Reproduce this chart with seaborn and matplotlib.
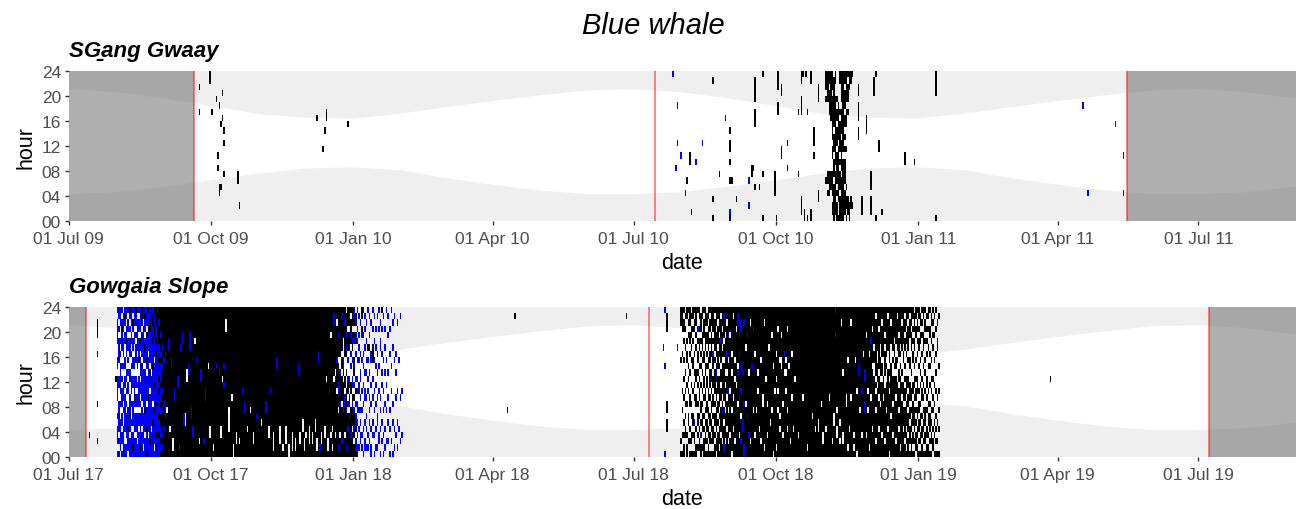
import numpy as np
import pandas as pd
import seaborn as sns
import matplotlib.pyplot as plt
import matplotlib.dates as mdates
from matplotlib.colors import ListedColormap

sns.set_theme(style="white")
plt.rcParams['font.family'] = ['Liberation Sans', 'DejaVu Sans']
plt.rcParams['text.color'] = 'black'
plt.rcParams['axes.labelcolor'] = 'black'

# daylight band (local hour), value on the 1st of each month Jan..Dec
sun_months = [1, 2, 3, 4, 5, 6, 7, 8, 9, 10, 11, 12]
sunrise = [8.6, 8.1, 6.9, 5.8, 4.9, 4.3, 4.3, 4.6, 5.5, 6.5, 7.6, 8.4]
sunset = [16.4, 17.2, 18.2, 19.2, 20.1, 20.9, 21.1, 20.6, 19.6, 18.4, 17.1, 16.5]

# 'k' = black detections, 'b' = blue detections
call_colors = {"k": "black", "b": "#0000FF"}

# day tokens: 24 cells, hour 23 first -> hour 00 last ('|' only for reading)
# "K" = detections every hour, "-" = none

# ---------------- SGang Gwaay ----------------
sg_title = "SG\u0331ang Gwaay"
sg_range = ("2009-07-01", "2011-09-02")
sg_breaks = ["2009-09-20", "2010-07-15", "2011-05-16"]
sg_off = [("2009-07-01", "2009-09-20"), ("2011-05-16", "2011-09-02")]

# (date, first hour, last hour, call)
sg_spots = [
    ("2009-09-23", 21, 21, "k"), ("2009-09-23", 17, 17, "k"),
    ("2009-09-30", 22, 23, "k"), ("2009-10-01", 17, 17, "k"),
    ("2009-10-04", 19, 19, "k"), ("2009-10-06", 18, 18, "k"),
    ("2009-10-08", 20, 20, "k"), ("2009-10-08", 16, 16, "k"),
    ("2009-10-07", 15, 15, "k"), ("2009-10-09", 14, 14, "k"),
    ("2009-10-09", 12, 12, "k"), ("2009-10-05", 10, 10, "k"),
    ("2009-10-05", 8, 8, "k"), ("2009-10-09", 7, 7, "k"),
    ("2009-10-18", 6, 7, "k"), ("2009-10-06", 4, 5, "k"),
    ("2009-10-07", 5, 5, "k"), ("2009-10-19", 2, 2, "k"),
    ("2009-12-08", 16, 16, "k"), ("2009-12-14", 16, 17, "k"),
    ("2009-12-13", 14, 14, "k"), ("2009-12-12", 11, 11, "k"),
    ("2009-12-28", 15, 15, "k"),
    ("2010-07-26", 23, 23, "b"), ("2010-07-29", 18, 18, "b"),
    ("2010-07-29", 12, 12, "b"), ("2010-07-31", 10, 10, "b"),
    ("2010-07-28", 8, 8, "b"), ("2010-08-03", 4, 4, "b"),
    ("2010-08-10", 9, 9, "b"), ("2010-08-14", 12, 12, "b"),
    ("2010-08-29", 16, 16, "b"), ("2010-09-01", 1, 1, "b"),
    ("2010-09-13", 6, 6, "b"), ("2010-09-13", 2, 2, "b"),
    ("2010-08-04", 6, 6, "k"), ("2010-08-06", 9, 10, "k"),
    ("2010-08-07", 1, 1, "k"), ("2010-08-21", 22, 22, "k"),
    ("2010-08-21", 3, 3, "k"), ("2010-08-21", 0, 0, "k"),
    ("2010-08-25", 7, 7, "k"), ("2010-09-01", 14, 14, "k"),
    ("2010-09-01", 11, 12, "k"), ("2010-09-01", 9, 9, "k"),
    ("2010-09-01", 6, 6, "k"), ("2010-09-01", 0, 0, "k"),
    ("2010-09-02", 6, 6, "k"), ("2010-09-05", 3, 3, "k"),
    ("2010-09-15", 7, 8, "k"), ("2010-09-16", 8, 8, "k"),
    ("2010-09-17", 19, 22, "k"), ("2010-09-17", 15, 17, "k"),
    ("2010-09-17", 5, 5, "k"), ("2010-09-20", 5, 5, "k"),
    ("2010-09-22", 23, 23, "k"), ("2010-09-22", 7, 7, "k"),
    ("2010-09-22", 0, 0, "k"), ("2010-09-30", 4, 7, "k"),
    ("2010-10-01", 0, 0, "k"), ("2010-10-02", 21, 23, "k"),
    ("2010-10-02", 17, 18, "k"), ("2010-10-04", 20, 21, "k"),
    ("2010-10-04", 10, 11, "k"), ("2010-10-08", 12, 12, "k"),
    ("2010-10-08", 8, 8, "k"), ("2010-10-15", 17, 17, "k"),
    ("2010-10-15", 7, 7, "k"), ("2010-10-17", 22, 23, "k"),
    ("2010-10-17", 17, 19, "k"), ("2010-10-17", 1, 3, "k"),
    ("2010-10-18", 23, 23, "k"), ("2010-10-19", 0, 1, "k"),
    ("2010-10-20", 23, 23, "k"), ("2010-10-21", 17, 17, "k"),
    ("2010-10-21", 0, 0, "k"), ("2010-10-23", 22, 23, "k"),
    ("2010-10-23", 0, 1, "k"), ("2010-10-25", 12, 14, "k"),
    ("2010-10-25", 10, 10, "k"), ("2010-10-28", 19, 21, "k"),
    ("2010-10-28", 3, 4, "k"),
    ("2010-11-23", 20, 21, "k"), ("2010-11-23", 16, 18, "k"),
    ("2010-11-23", 13, 14, "k"), ("2010-11-25", 1, 3, "k"),
    ("2010-11-28", 14, 16, "k"), ("2010-12-01", 5, 7, "k"),
    ("2010-12-01", 1, 3, "k"), ("2010-12-03", 20, 22, "k"),
    ("2010-12-04", 23, 23, "k"), ("2010-12-04", 0, 0, "k"),
    ("2010-12-06", 11, 12, "k"), ("2010-12-08", 1, 1, "k"),
    ("2010-12-23", 9, 10, "k"), ("2010-12-29", 9, 9, "k"),
    ("2011-01-12", 20, 23, "k"), ("2011-01-12", 0, 0, "k"),
    ("2011-04-17", 18, 18, "b"), ("2011-04-20", 4, 4, "b"),
    ("2011-05-08", 15, 15, "b"), ("2011-05-13", 10, 10, "b"),
    ("2011-05-13", 4, 4, "b"),
]

sg_nov10 = [
    "kkk.k.|....|......|.k..|....", "kkkkk.|....|......|kk.k|....",
    "kk.kkk|k...|......|kkkk|....", "kkkkkk|kk..|......|kkk.|....",
    "kkk.kk|kkkk|k.kk..|kkkk|.kk.", ".kkkkk|kkk.|kkk.kk|k.kk|kkkk",
    "kk..kk|kkkk|kkkkk.|kkkk|kkk.", "....k.|kk.k|kk.kkk|kk.k|.kkk",
    ".....k|kkkk|k.kkkk|kkkk|k..k", "kk....|k.kk|kkk.k.|kkk.|kkkk",
    "kkkkk.|kkkk|.kkkkk|.kkk|kkkk", "kkkkkk|kkkk|kkk.kk|kkkk|kkkk",
    "kk.kkk|.kk.|k.k.kk|kk.k|kkk.", "kkkkk.|kkk.|..k...|..k.|kk.k",
    "k.kkk.|k...|......|....|kkk.", "kkk...|....|......|....|.kkk",
    "kk....|....|......|....|kk..", "k.....|....|......|....|.k..",
]
sg_blocks = [("2010-11-02", sg_nov10)]

# ---------------- Gowgaia Slope ----------------
gs_title = "Gowgaia Slope"
gs_range = ("2017-07-01", "2019-09-02")
gs_breaks = ["2017-07-12", "2018-07-11", "2019-07-08"]
gs_off = [("2017-07-01", "2017-07-12"), ("2019-07-08", "2019-09-02")]

gs_spots = [
    ("2017-07-14", 3, 3, "k"), ("2017-07-19", 19, 21, "k"),
    ("2017-07-19", 16, 16, "k"), ("2017-07-19", 8, 8, "k"),
    ("2017-07-19", 2, 2, "k"), ("2017-07-31", 12, 12, "k"),
    ("2018-04-10", 7, 7, "k"), ("2018-04-15", 22, 22, "k"),
    ("2018-06-26", 22, 22, "k"), ("2019-03-27", 12, 12, "k"),
]

gs_aug17 = [
    "b.bbbb|..bb.b|bbb..b|.bbb.b", "bb.b.b|bbb..b|b..bbb|bb.b.b",
    "bbb..b|.b.bbb|bb.b..|bbbbb.", "b.bkbb|b..b.b|.bbb.b|b.bb.b",
    ".bbb.b|bb.b..|bbb.b.|.bbbbb", "bkb.bb|..bb.b|b.bbbb|bb..bb",
    "bb.bbk|bb..bb|.b.b.b|bbb.bb", "b.bb.b|b.b.b.|bb..bb|bkbbb.",
    "kb.b.b|bb..bb|..bbbk|bb.bbb", "bbb.bb|.b.b.b|bb.b..|b.bbbb",
    "b.kb.b|b.bb.b|b..bbb|b.bbkb", "bbb.bb|..bb.b|bbkb.b|bb.bbb",
    "kbb.b.|bbb..b|b.bb.b|bb.bbb", "b.kbbb|b.bb..|b.bb.b|bkb.bb",
    "b.bb.b|bbk..b|bbbb.b|b.bbbb", "bbbb.k|b.bbb.|bb.b.b|bbbbkb",
    "kkb.bb|bb.kbb|bbb.bb|b.bbbb", "bb.kbb|bbb.bb|bkbb.b|bbkb.b",
    "bkbb.b|kbb.bb|bbbbkb|bb.bbb", "bbb.kb|bbkb.b|bbb.bb|bkbbbk",
    "kbbkbb|b.bbbb|bbkbbb|bb.bbb", "bbkkbb|bbb.kb|b.bbbb|bbbkbb",
    "kkbbbb|bbbb.b|bbkbbb|b.bbbb", "bkkbbk|bbbkbb|bbb.bb|kbbbbb",
    "kbbkkb|bb.bbb|kbbbkb|bbbb.b", "kkkbbk|bkbbbb|bbbkbb|bbkbbb",
    "bkkkkb|kbbbkb|bbkbbb|bbbbkb", "kkbkkk|bbkbbk|bkbbbk|bbkbbb",
    "kkkkbk|kbkbbb|kbbkbk|kbbkbk", "kkkkkk|bkkbkk|kbkkbk|kkbkbk",
    "kkkkkk|kkbkkk|kkkbkk|kbkkkk",
]
gs_sep17 = [
    "kkkkkk|kbkkkk|kkkkbb|kkkkkk", "kkkkkk|kkkkkk|kkkk.k|kkkkkk",
    "kkkkkb|bkkkkk|kkkkkk|kkkkkk", "kkkkkk|kkkkkk|kkkkkk|k.kkkk",
    "kkkkkk|kkbbkk|kkkkkk|kkkkkk", "kkkkkk|kkkkkk|kkkkkk|kkk..k",
    "kkkkkk|kkkkkk|kbbkkk|kkkkkk", "K",
    "kkkkkk|kkkkkb|bkkkkk|kkkkkk", "kkkkkk|kkkkkk|kkkkkk|kkkkbk",
    "kkkkkk|bkkkkk|kkkkkk|kkkkkk", "kkkkbb|kkkkkk|kkkkkk|kkkkkk",
    "kkkkkk|kkkkkk|kkkkkb|bkkkkk", "kkkkkk|kkkkkk|kkkkk.|.kkkkk",
    "kkkkkk|kkkk..|kkkkkk|kkkkkk", "kkkkkk|kkkbbk|kkkkkk|kkkkkk",
    "kkkkbb|bkkkkk|kkkkkk|kkkkkk", "kkkkkk|kkkkkk|kkkkbb|kkkkkk",
    "kkkkkk|kkkkkk|kkkkkk|kbbkkk", "kkkkk.|kkkkkk|kkkkkk|kkkkkk",
    "kkkkkk|kkbkkk|kkkkkk|kkkkkk", "K",
    "kkkkkk|kkkkkk|kkkkkk|kkk.kk", "kkkkkk|kkkkbb|kkkkkk|kkkkkk",
    "K", "kkkkkk|kkkkkk|kkkkkk|kkkbkk",
    "kkkkkk|kkkkkk|kbbkkk|kkkkkk", "K",
    "kkkkkk|kkk.kk|kkkkkk|kkkkkk", "kkkkkk|kkkkkk|kkkkkk|k..kkk",
]
gs_oct17 = [
    "K", "kkkkkk|kkkkkk|kkkkkk|kkkk.k", "K",
    "kkkkkk|kkkbkk|kkkkkk|kkkkkk", "K",
    "kkkkkk|kkkkbk|kkkkkk|kkkkkk", "kkkkkk|kkkkkk|kkkkkk|k..kkk",
    "kkkkkk|kkkkk.|kkkkkk|kkkkkk", "kkkkkk|kkkbkk|bkkkkk|kkkkkk",
    "kk..kk|kkkkkk|kkkkkk|kkkkkk", "K",
    "kkkkkk|kkkkkk|kkkk..|..kkkk", "K",
    "kkkkkk|kkkkkk|kk.kkk|kkkkkk", "kkkkkk|kkkkkk|kkkkkk|kkkk..",
    "K", "kkkkkk|kkkkkk|kkkkkk|kk..kk", "K",
    "kkkkkk|kkkkkk|kkkkkk|kkk.kk", "K",
    "kkkkkk|kkkkkk|kbkkkk|kkkkkk", "kkkkkk|kkkkkk|kkkbbk|kkkkkk",
    "K", "kkkkkk|kkkkkk|kkkkkk|k.kkkk", "K",
    "kkkkkk|kkkkkk|kkkk.k|kkkkkk", "K",
    "kkkkkk|kkkkkk|kkkkkk|kk..kk", "K",
    "kkkkkk|kkkkkk|kkkkkb|kkkkkk", "K",
]
gs_nov17 = [
    "K", "kkkkkk|kkkkkk|kkkkkk|.kkkkk", "K", "K",
    "kkkkkk|kkkkkk|kkkbbk|kkkkkk", "K",
    "kkkkkk|kkkkkk|kkkkkk|k..kkk", "kkkkkk|kkkkkk|kbkkkk|kkkkkk",
    "K", "kkkkkk|kkkkkk|kkkkkk|kk...k", "K",
    "kkkkkk|kkbbkk|kkkkkk|kkkkkk", "K",
    "kkkkkk|kkkkkk|kkkkkk|k...kk", "K",
    "kkkkkk|kkkkkk|kkkkkk|kkkk.k", "K",
    "kkkkkk|kkkkkk|kkkkkk|k...kk", "K",
    "kkkkkk|kkkkkk|kkkkkk|kkkk..", "K",
    "kkkkkk|kkkkkk|kkkkkk|kk...k", "K",
    "kkkkkk|kkkkkk|kkkkkk|kkk..k", "K",
    "kkkkkk|kkkbbk|kkkkkk|kkkkkk", "kkkkkk|kkkkkk|kkkkkk|kk..kk",
    "K", "kkkkkk|kkkkkk|kkkkkk|..kkkk", "kkkkkk|kkkkkk|kkkkkk|kkk..k",
]
gs_dec17 = [
    "kkkkkk|kkkkkk|kkkkkk|kk.kkk", "K",
    "kkkkkk|kkkkkk|kkkkkk|k...kk", "K",
    "kkkkkk|kkkkkk|kkkkkk|kk..kk", "K",
    "kkkkkk|kkkkkk|kkkkkk|..kkkk", "kkkkkk|kkkkkk|kkkkkk|kkk..k",
    "kkkkkk|kbbkkk|kkkkkk|kkkkkk", "kkkkkk|kkkkkk|kkkkkk|kkkkbk",
    "kkkkkk|kkkkkk|kkkkkk|kk..kk", "K",
    "kkkkkk|kkkkkk|kkkkkk|k..kkk", "kkkkkk|kkkkk.|kkkkkk|kkkkkk",
    "kkkkkk|kkkkkk|kkkkkk|kkk..k", "kkkkkk|kkkkkk|kbkkkk|kkkkkk",
    "kkkk.k|kkkkkk|kkkkkk|kk.kkk", "kkkkkk|kkkkkk|kkkkkk|k.kk.k",
    "kbbkkk|kkkkk.|kkkkkk|kkkkkk", "kkkkkk|kkkk.b|kkkkkk|kk.kkk",
    "kk.kkk|kkbkkk|k.kkkk|kkkkkk", "kkkkbk|kk.kkk|bbkk.k|kkkkbk",
    "kkkkkk|kk..bk|kkkbkk|kk.kkk", "kbkkkk|k.kk.k|kkk.kk|kkkbkk",
    "kkkkk.|..bbk.|kkkkbk|kkkkkk", "kkbkkk|kk...k|k.bbkk|kk.kkk",
    ".kkkbk|bk..k.|.kkkbk|kkkkbk", "kkk.kk|k.b..b|kk.b.k|kbkkkk",
    "kbk.kk|b....k|b.kk.b|kkkkkk", "k.kkbk|.b.b..|kk..kk|kkbkkk",
    "kkk.kb|k.b..b|b.kbkk|k.kkkk",
]
gs_jan18 = [
    "bbk.kb|..kbk.|b.k.bk|kbk.kk", ".kb.bk|.b...b|.k.b.b|bk.bbk",
    "b..b.b|..b..b|.b.bb.|b.b.bb", ".b..b.|b.b...|bb..b.|.b..b.",
    "..b...|.b..bb|..b.b.|b.bb..", "kk.kb.|..b...|.b..b.|..b.b.",
    "b...b.|.b.b..|b..b..|.b...b", ".b.b..|b...b.|.bb...|b..bb.",
    "..b..b|..b.b.|..b..b|.b..b.", "b.....|k.b..b|.b....|..b.b.",
    ".b..b.|b...b.|..b.b.|b..b..", "..b...|.bb...|b..b..|.b..bb",
    "b..b..|kkk..b|..b...|b.b...", ".b...b|..b...|.b..b.|..b..b",
    "...b..|b..b..|b..b..|.b..b.", ".b....|.b..b.|..b..b|b...b.",
    "b..b..|...b..|.b....|..bb..", "..b..b|b.....|..b.b.|.b...b",
    "k..b..|.b..b.|b.....|b..b..", ".b....|..b...|.b..b.|..b..b",
    "...b..|b...b.|...b..|.b..b.", "b.....|..b...|b...b.|...b..",
    ".b..b.|....b.|..b...|b..b..", "...b..|.b....|....b.|.b...b",
    "b.....|...b..|.b....|...b..", "..b...|b.....|...b..|b....b",
    ".b....|..b...|......|.b..b.", "......|.b..b.|..b...|..b...",
    "..b...|......|.b....|b...b.", "......|..b...|......|.b....",
    ".b....|......|..b...|...b..", "......|......|.b....|..b...",
]
gs_jul18 = [
    "......|b.....|......|......", "b.....|...b..|......|.....b",
    ".kkk..|......|...kk.|kk....", "-", "-", "-", "-", "-", "-",
    "......|b.....|......|......", "-",
    "kkk...|..k...|......|...k.k",
]
gs_aug18 = [
    "kkkk..|.k....|.k..k.|..k..k", "k.kk.k|..k..k|..k...|k.k.kk",
    ".k.k..|k...k.|.b.k.k|.kk...", "kk...k|.kk...|k..k..|..k.kk",
    "k.k.k.|...k.k|.k...k|k..k..", "kkk.kk|.k..k.|..kk..|.k.k.k",
    ".k.kk.|k.k...|k..k.k|..kk.k", "kk.k.k|..kk..|.k...k|k.k..k",
    "k.kk..|.k..k.|k.k...|b.kk.k", "kkk.k.|k...kk|..kk..|.k..kk",
    "k..b.k|.kk.k.|k..k.k|k.k.k.", "kk.k.b|k..k.k|.kk..k|.k.kk.",
    ".kkk.k|.k.k..|k..kk.|k.b.kk", "kk..kk|k.k.k.|.k.k.k|kk..k.",
    "k.kkk.|.kk..k|k.k..k|.k.kkk", "kkk.kk|k..kk.|.kk.k.|k.kk.k",
    ".kk.kk|.k.k.k|k..kk.|kk.k.k", "kk.kkk|k.kk..|.kk.kk|.kk.kk",
    "k.kk.k|.kk.kk|k.k..k|k.kk.k", "kkk.kk|kk..kk|.k.kk.|kk.k.k",
    "kkkk.k|.bkk.k|k.kk.k|.kkk.k", "k.kkkk|k.k.kk|kk.k.k|k.k.kk",
    "kkk.kk|kk.kbk|.kk.kk|kk.kk.", "kk.kkk|.kkk.k|kk.kk.|k.kkkk",
    "kkkk.k|kk.k.k|kkkk.k|.kbk.k", "k.kkkb|kkk.kk|.kk.kk|kk.kkk",
    "kkk.kk|.k.kkk|kk.kbk|kkk.kk", "kbkkk.|kk.kkk|kkk.kk|.kkkbk",
    "kkkk.k|kkkk.k|.kkk.k|kkk.kk", "kk.kkk|kbkk.k|kk.kkk|k.kkkk",
    "kkkkbk|kk.kkk|kbkk.k|kkk.kk",
]
gs_sep18 = [
    "kkkk.k|kkkkkk|k.kkkk|kk.kkk", "kkkkkk|k.kk.k|kkkk.k|kkkkk.",
    "k.kkkk|kkkkkk|kk.kkk|k.kkkk", "kkkkkk|kk.kk.|kkkkkk|kkk.kk",
    "kkk.kk|kkkkkk|.kkkkk|kkkkkk", "kbbkkk|kkk.bk|kkk.kk|kkkkkk",
    "kkkkbk|kbkkkk|kkbkkk|kk.kkk", "kkbbkk|kkkbkk|kbkkk.|kkkbkk",
    "kkkkkk|kkkkbk|kkkkkk|bbkkkk", "kkbkkk|kkkkkk|kkkbkk|kkkkbb",
    "kkkkkk|.kkkkk|kkk.kk|kkkkkk", "kkkkbk|kkkkkk|kkkkkb|kkkkkk",
    "kkkkkk|kkkk.k|kkkkkk|kkbkkk", "kk.kkk|kkkkkk|kkkkkk|kkk.kk",
    "kkkkkk|kkkbkk|kkkkkk|kkkkkk", "kkkbkk|kkkkkk|kkkk.k|kkkkkk",
    "kkkkkk|k.kkkk|kkkkkk|kk.kkk", "kkkkkk|kkkkkk|kkkk.k|kkkkkk",
    "kkkkkk|kkkk.k|k.kkkk|kkkkkk", "kkkkkk|kkkkkk|kkkkkk|k.kkkk",
    "kkkkkk|kk.kkk|kkkkkk|kkk.kk", "kkkkkk|kkkkkk|kk..kk|kkkkkk",
    "kk.kkk|kkkkkk|kkkkkk|kkkk.k", "kkkkkk|kkkkk.|kkkkkk|kkkkkk",
    "kkkkkk|kkkkkk|kkk.kk|kk.kkk", "kkkkkk|.kkkkk|kkkkkk|kkkkkk",
    "kkkkkk|kkkkkk|kkkkkk|.kkkkk", "kkkk.k|kkkkkk|kkkk.k|kkkkkk",
    "kkkkkk|kkk.kk|kkkkkk|kkkkk.", "kkkkkk|kkkkkk|k.kkkk|kkkkkk",
]
gs_oct18 = [
    "kkkkkk|k.kkk.|kkkkkk|kkkk.k", "kkk.kk|kkkkkk|k.kk.k|kkkkkk",
    "kkkkkk|kk.kkk|kkkkk.|k.kkkk", "kkkk.k|kk..kk|kkkkkk|kkkkkk",
    "kkkkkk|kkkkkk|kkk.kk|kk.kkk", "kkkkkk|kbkk.k|kkkkkk|kkkkkk",
    "kkkkkk|kk.k.k|k.kkkk|kkkkkk", "kkk.kk|kkkkkk|kkkk.k|k.kkkk",
    "kkkkkk|kkk.kk|kkkkkk|kkkkkk", "kkkkkk|kkkkkk|kkkkkk|kkk.kk",
    "kkkkkk|k.kkkk|kk.kkk|kkkkkk", "kkkkkk|kkkkkk|kkkkkk|k.kkkk",
    "kkkkkk|kkkkk.|kkkkkk|kkkkkk", "K",
    "kkkkkk|kkkkkk|kkkkkk|kk.kkk", "K", "K",
    "kkkkkk|kkkkkk|kk.kkk|kkkkkk", "K", "K",
    "kkkkkk|kkkkkk|kkkkkk|kkkk.k", "K", "K",
    "kkkkkk|kkkkkk|kkkkk.|kkkkkk", "K",
    "kkkkkk|kkkkkk|kkkkkk|k.kkkk", "K",
    "kkkkkk|kkkkkk|kkkkkk|..kkkk", "K",
    "kkkkkk|kkkkkk|kkk.kk|kkkkkk", "kkkkkk|kkkkkk|kkkkkk|kk..kk",
]
gs_nov18 = [
    "K", "kkkkkk|kkkkkk|kkkkkk|k.kkkk", "K",
    "kkkkkk|kkkkkk|kk.kkk|kkkkkk", "K",
    "kkkkkk|kkkkkk|kkkkkk|kkk.kk", "kkkkkk|kkkkkk|kkkkk.|.kkkkk",
    "bkkkbk|kkkkkk|kkkkkk|kkkkkk", "kkkkkk|kkkkkk|kkkk.k|k..kkk",
    "K", "kkkkkk|kkkkkk|kkkkkk|.kk.kk", "kk.kkk|kkkkkk|kkkkkk|kkkkkk",
    "kkkkkk|kkkk.k|kkkkkk|kk..kk", "K",
    "kkkkkk|kkkkkk|kk..kk|kkkkkk", "kkkkkk|kk.kkk|kkkkkk|kkkk.k",
    "kkkkkk|kkkkkk|kkkkkk|k.kkkk", "kk.kkk|kkkkkk|kk.kkk|kkkkkk",
    "K", "kkkkkk|kkkkkk|kkkkkk|kk.k.k", "kkkkkk|kk.kkk|kkkkkk|kkkkkk",
    "kkkkkk|kkkkkk|k.kkkk|kkkkk.", "kkkkkk|kkkbbk|kkkkkk|kkkkkk",
    "kkkkkk|kkkkkk|kkkk.k|kkkkkk", "kkkkkk|kkkkkk|kbkkkk|kk.kkk",
    "kkkkkk|k.kkkk|kkkkkk|kkkkkk", "kkkkkk|kkkkbb|kkkbbk|kkkkkk",
    "kkkk.k|kkkkkk|kkkkkk|kk.kkk", "kkkkkk|kkkkkk|k.kk.k|kkkkkk",
    "kkkkkk|k.kkkk|kkkkkk|kkkk.k",
]
gs_dec18 = [
    "kkkkkb|kkkkkk|kk.kkk|kkkkkk", "kkk.kk|kkk.kk|kkkkkk|k.kkkk",
    "kkkkkk|.kk..k|kkkkkk|kkkkkk", "k.kkkk|kkkkk.|k.kk.k|kkk.kk",
    "kkkkkk|k..kkk|.kkkkk|kkkkkk", "kkk.kk|kkkk.k|kk.kkk|k.kkkk",
    "kkkkkk|..kkk.|kkk.kk|kkkkkk", "kk.kkk|kk.kk.|kkkkkk|kk.kkk",
    "kkkkkk|kk...k|kk.kkk|kkkkkk", "kkkk.k|.kkkk.|.kkkkk|kkk.kk",
    "kkkkkk|kk.k..|kkkk.k|kkkkkk", "k.kkkk|k...kk|kkkkkk|k.kkkk",
    "kkkkkk|kkk.k.|k.kkkk|kkkkk.", "kk.kkk|...kkk|kkkkk.|kkkkkk",
    "kkkkkk|k.k..k|kkk.kk|kk.kkk", "kkkkk.|kk.k.k|kkkkkk|kkkkkk",
    "kkkkkk|..kk.k|kk.kkk|kkk.kk", "k.kkkk|k.k...|kkkkkk|kkkkkk",
    "kkkk.k|kk..kk|.kkk.k|k.kkkk", "kkkkkk|.k.k.k|kkkkkk|kkkk.k",
    "kk.kkk|k...k.|kk.kkk|kkkkkk", "kkkkkk|.kk...|kkk.kk|k.kkkk",
    "k.kk.k|k..k.k|.kk.kk|kkk.kk", "kkk.kk|.k...k|kk.kkk|k.kk.k",
    "kk.kkk|k.k..k|k.kk.k|kk.kkk", "k.kkk.|..kk..|kkk.kk|.kkk.k",
    "kkk.kk|k...k.|.kk.k.|kk.kkk", "kk.k.k|.kk...|kk.kkk|k.kk.k",
    ".kkk.k|k..k.k|k.k.kk|kk.k.k", "kk.kk.|..k..k|.kk.k.|k.kkk.",
    "k.kk.k|.k...k|kk..kk|.kk.kk",
]
gs_jan19 = [
    "kk.k.k|k..k..|.k.kk.|kk.k.k", ".kk.kk|..k.k.|k..k.k|k.kk.k",
    "k.k.k.|.k...k|.kk..k|.kk.kk", "kk..kk|k..k..|k.k.k.|kk.k.k",
    "k.kk.k|..k.k.|.k..kk|k.kk.k", ".k.k.k|.k...k|k.k.k.|.kk.kk",
    "kk.k..|k..k..|.k.k.k|k.k.kk", "k..kk.|.k.k..|k..k.k|kk.k.k",
    ".kk..k|..k..k|.k..k.|k.kk.k", "k.k.k.|k....k|..k.k.|.k.kk.",
    ".k..k.|..k...|k..k..|k.k..k", "k..k..|.k..k.|.k...k|.k.k.k",
    "..k..k|k.....|..k...|k..k.k", ".k....|...k..|.k..k.|.k...k",
]
gs_blocks = [
    ("2017-08-01", gs_aug17), ("2017-09-01", gs_sep17),
    ("2017-10-01", gs_oct17), ("2017-11-01", gs_nov17),
    ("2017-12-01", gs_dec17), ("2018-01-01", gs_jan18),
    ("2018-07-20", gs_jul18), ("2018-08-01", gs_aug18),
    ("2018-09-01", gs_sep18), ("2018-10-01", gs_oct18),
    ("2018-11-01", gs_nov18), ("2018-12-01", gs_dec18),
    ("2019-01-01", gs_jan19),
]


def day_cells(token):
    if token == "K":
        return "k" * 24
    if token == "-":
        return "." * 24
    return token.replace("|", "").ljust(24, ".")[:24]


def detections(spots, blocks):
    rows = []
    for d, h0, h1, c in spots:
        for h in range(h0, h1 + 1):
            rows.append((pd.Timestamp(d), h, c))
    for start, tokens in blocks:
        for i, tok in enumerate(tokens):
            day = pd.Timestamp(start) + pd.Timedelta(days=i)
            for j, c in enumerate(day_cells(tok)):
                if c in call_colors:
                    rows.append((day, 23 - j, c))
    df = pd.DataFrame(rows, columns=["date", "hour", "call"])
    df["x"] = mdates.date2num(df["date"]) + 0.5
    df["y"] = df["hour"] + 0.5
    return df


def draw_panel(ax, title, rng, breaks, off, det):
    t0, t1 = pd.Timestamp(rng[0]), pd.Timestamp(rng[1])
    x0, x1 = mdates.date2num(t0), mdates.date2num(t1)

    # night = light grey, day = white band between sunrise and sunset
    ax.set_facecolor("#EFEFEF")
    md = pd.date_range(t0 - pd.offsets.MonthBegin(1), t1 + pd.offsets.MonthBegin(1), freq="MS")
    rise = [sunrise[sun_months.index(m.month)] for m in md]
    sset = [sunset[sun_months.index(m.month)] for m in md]
    ax.fill_between(mdates.date2num(md), rise, sset, color="white", lw=0, zorder=0.5)

    # periods without recording
    for a, b in off:
        ax.axvspan(mdates.date2num(pd.Timestamp(a)), mdates.date2num(pd.Timestamp(b)),
                   color="#616161", alpha=0.5, lw=0, zorder=1)

    for call, col in call_colors.items():
        sub = det[det["call"] == call]
        sns.histplot(data=sub, x="x", y="y", binwidth=(1, 1),
                     binrange=((x0, x1), (0, 24)), cmap=ListedColormap([col]),
                     ax=ax, zorder=2)

    for b in breaks:
        ax.axvline(mdates.date2num(pd.Timestamp(b)), color="#FF0000", alpha=0.55,
                   lw=1.2, zorder=3)

    ax.set_xlim(x0, x1)
    ax.set_ylim(0, 24)
    ax.xaxis.set_major_locator(mdates.MonthLocator(bymonth=[1, 4, 7, 10]))
    ax.xaxis.set_major_formatter(mdates.DateFormatter("%d %b %y"))
    ax.set_yticks(range(0, 25, 4), [f"{h:02d}" for h in range(0, 25, 4)])
    for s in ax.spines.values():
        s.set_visible(False)
    ax.grid(False)
    ax.tick_params(axis="both", which="major", bottom=True, left=True, length=3,
                   width=1.0, color="#333333", labelcolor="#4D4D4D",
                   labelsize=12.5, pad=2.5)
    ax.tick_params(axis="x", pad=4.5)
    ax.set_xlabel("date", fontsize=15.5, labelpad=4)
    ax.set_ylabel("hour", fontsize=15.5, labelpad=4)
    ax.text(0, 1.1, title, transform=ax.transAxes, ha="left", va="baseline",
            fontsize=16, fontweight="bold", fontstyle="italic", color="black")


fig = plt.figure(figsize=(12.98, 5.10), dpi=100)
ax1 = fig.add_axes([0.0529, 0.5647, 0.9455, 0.2941])
ax2 = fig.add_axes([0.0529, 0.1020, 0.9455, 0.2941])

draw_panel(ax1, sg_title, sg_range, sg_breaks, sg_off, detections(sg_spots, sg_blocks))
draw_panel(ax2, gs_title, gs_range, gs_breaks, gs_off, detections(gs_spots, gs_blocks))

fig.text(0.503, 1 - 34 / 510, "Blue whale", ha="center", va="baseline",
         fontsize=21, fontstyle="italic", color="black")

fig.savefig("out.png", dpi=100, facecolor="white")
